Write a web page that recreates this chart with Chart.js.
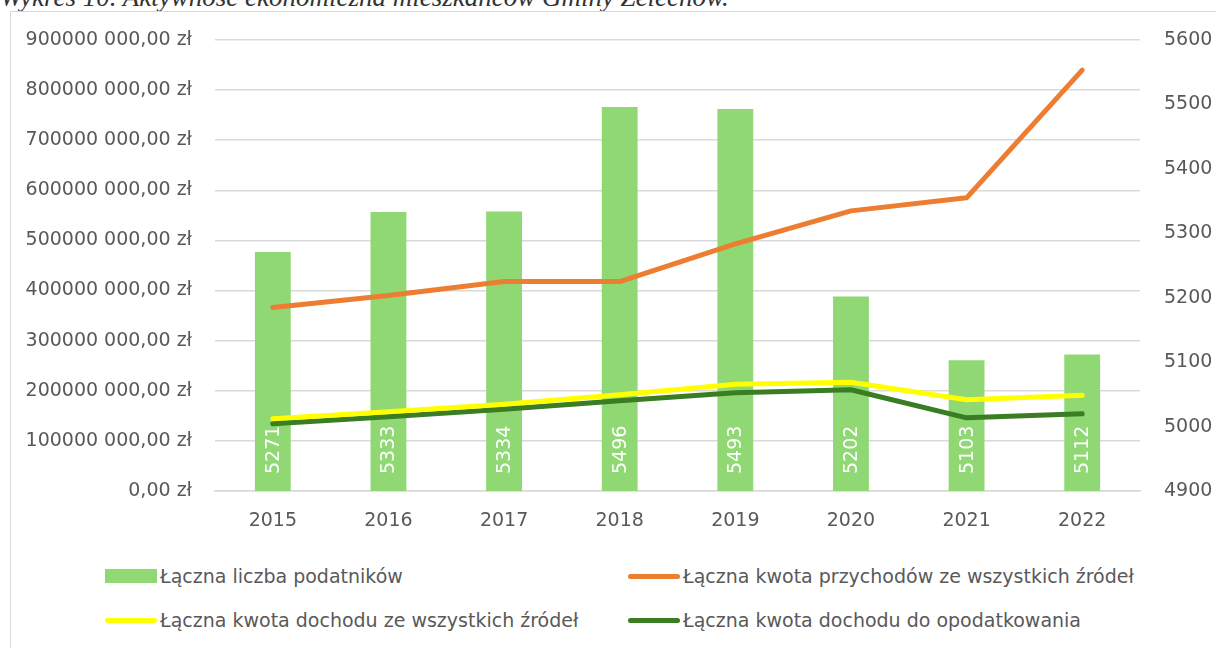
<!DOCTYPE html>
<html lang="pl">
<head>
<meta charset="utf-8">
<script src="https://cdn.jsdelivr.net/npm/chart.js@4.4.1/dist/chart.umd.min.js"></script>
<style>
    body { margin: 0; width: 1216px; height: 648px; overflow: hidden; background: #fff; position: relative; font-family: 'DejaVu Sans', sans-serif; }
    #caption { position: absolute; left: 0; top: -16px; font: italic 27px 'Liberation Serif', serif; line-height: 27px; color: #333; white-space: nowrap; }
    #frame { position: absolute; left: 10px; top: 11px; width: 1220px; height: 650px; border: 1px solid #d9d9d9; }
    #wrap { position: absolute; left: 0; top: 0; width: 1216px; height: 545px; }
    #legend { position: absolute; left: 105px; top: 564px; display: grid; grid-template-columns: 523px 560px; row-gap: 20px; }
    .item { display: flex; align-items: center; height: 24px; font-size: 19px; color: #595959; white-space: nowrap; }
    .sw { width: 52px; margin-right: 3px; }
</style>
</head>
<body>
<div id="caption">Wykres 10. Aktywność ekonomiczna mieszkańców Gminy Żelechów.</div>
<div id="frame"></div>
<div id="wrap"><canvas id="chart"></canvas></div>
<div id="legend"></div>
<script>
// categories and values
const years = ['2015', '2016', '2017', '2018', '2019', '2020', '2021', '2022'];
const taxpayers = [5271, 5333, 5334, 5496, 5493, 5202, 5103, 5112];
const revenue = [366e6, 390e6, 418e6, 418e6, 493e6, 559e6, 585e6, 840e6];
const incomeAll = [144e6, 158e6, 173e6, 192e6, 213e6, 217e6, 182e6, 191e6];
const incomeTaxable = [134e6, 148e6, 163e6, 180e6, 196e6, 202e6, 146e6, 154e6];

const leftTickLabels = ['0,00 zł', '100000 000,00 zł', '200000 000,00 zł', '300000 000,00 zł', '400000 000,00 zł',
    '500000 000,00 zł', '600000 000,00 zł', '700000 000,00 zł', '800000 000,00 zł', '900000 000,00 zł'];
const rightTickLabels = ['4900', '5000', '5100', '5200', '5300', '5400', '5500', '5600'];

const seriesNames = [
    'Łączna liczba podatników',
    'Łączna kwota przychodów ze wszystkich źródeł',
    'Łączna kwota dochodu ze wszystkich źródeł',
    'Łączna kwota dochodu do opodatkowania'
];
const colors = ['#90d874', '#ed7d31', '#ffff00', '#3a7d22'];

const textColor = '#595959';
const gridColor = '#d9d9d9';
const fontFamily = 'DejaVu Sans';

// white vertical numbers at the foot of each bar (under the lines)
const barLabels = {
    id: 'barLabels',
    afterDatasetDraw(chart, args) {
        if (args.index !== 0) return;
        const y2 = chart.scales.y2;
        const base = y2.getPixelForValue(y2.min);
        const ctx = chart.ctx;
        ctx.save();
        ctx.fillStyle = '#ffffff';
        ctx.font = '19px "' + fontFamily + '"';
        ctx.textAlign = 'left';
        ctx.textBaseline = 'middle';
        args.meta.data.forEach((bar, i) => {
            ctx.save();
            ctx.translate(bar.x + 1, base - 17);
            ctx.rotate(-Math.PI / 2);
            ctx.fillText(String(taxpayers[i]), 0, 0);
            ctx.restore();
        });
        ctx.restore();
    }
};

const lineDataset = (idx, data) => ({
    type: 'line',
    label: seriesNames[idx],
    data: data,
    yAxisID: 'y',
    borderColor: colors[idx],
    backgroundColor: colors[idx],
    borderWidth: 5,
    pointRadius: 0,
    tension: 0,
    borderCapStyle: 'round',
    borderJoinStyle: 'round',
    order: idx
});

new Chart(document.getElementById('chart'), {
    data: {
        labels: years,
        datasets: [
            {
                type: 'bar',
                label: seriesNames[0],
                data: taxpayers,
                yAxisID: 'y2',
                backgroundColor: colors[0],
                categoryPercentage: 1,
                barPercentage: 0.31,
                order: 10
            },
            lineDataset(1, revenue),
            lineDataset(2, incomeAll),
            lineDataset(3, incomeTaxable)
        ]
    },
    options: {
        responsive: true,
        maintainAspectRatio: false,
        animation: false,
        layout: { padding: { top: 40, left: 0, right: 0, bottom: 0 } },
        plugins: { legend: { display: false }, tooltip: { enabled: false } },
        scales: {
            x: {
                grid: { display: false, drawTicks: false },
                border: { color: gridColor, width: 1.5 },
                ticks: { color: textColor, font: { family: fontFamily, size: 19 }, padding: 19, maxRotation: 0 },
                afterFit: (s) => { s.height = 54; }
            },
            y: {
                position: 'left',
                min: 0,
                max: 900000000,
                grid: { color: gridColor, lineWidth: 1.5, drawTicks: false },
                border: { display: false },
                ticks: {
                    stepSize: 100000000,
                    color: textColor,
                    font: { family: fontFamily, size: 19 },
                    padding: 23,
                    callback: (v) => leftTickLabels[Math.round(v / 100000000)]
                },
                afterFit: (s) => { s.width = 215; }
            },
            y2: {
                position: 'right',
                min: 4900,
                max: 5600,
                grid: { display: false, drawTicks: false },
                border: { display: false },
                ticks: {
                    stepSize: 100,
                    color: textColor,
                    font: { family: fontFamily, size: 19 },
                    padding: 24,
                    callback: (v) => rightTickLabels[Math.round((v - 4900) / 100)]
                },
                afterFit: (s) => { s.width = 76; }
            }
        }
    },
    plugins: [barLabels]
});

// legend in two columns, built from the series names and colours
const legend = document.getElementById('legend');
[0, 1, 2, 3].forEach((i) => {
    const item = document.createElement('div');
    item.className = 'item';
    const sw = document.createElement('span');
    sw.className = 'sw';
    sw.style.background = colors[i];
    sw.style.height = i === 0 ? '14px' : '5px';
    sw.style.borderRadius = i === 0 ? '0' : '3px';
    item.appendChild(sw);
    item.appendChild(document.createTextNode(seriesNames[i]));
    legend.appendChild(item);
});
</script>
</body>
</html>
